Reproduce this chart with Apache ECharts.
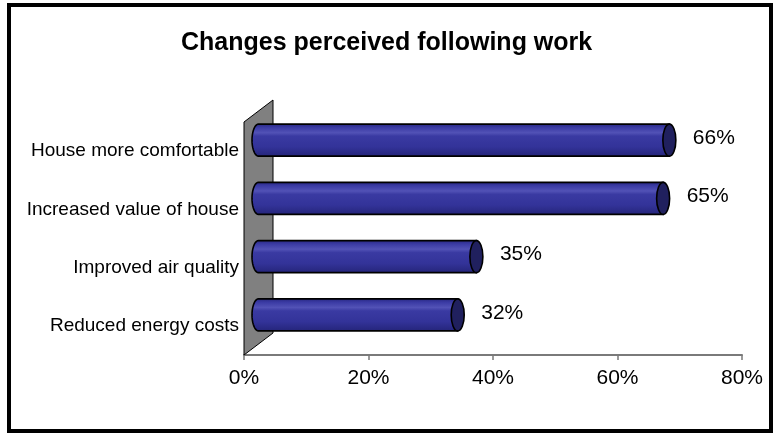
<!DOCTYPE html>
<html>
<head>
<meta charset="utf-8">
<script src="https://cdn.jsdelivr.net/npm/echarts@6/dist/echarts.min.js"></script>
<style>
  html, body { margin: 0; padding: 0; background: #ffffff; }
  #chart { width: 773px; height: 434px; }
</style>
</head>
<body>
<div id="chart"></div>
<script>
// Survey results: changes people noticed after renovation work
const categories = ['House more comfortable', 'Increased value of house', 'Improved air quality', 'Reduced energy costs'];
const values = [66, 65, 35, 32];
const valueLabels = ['66%', '65%', '35%', '32%'];
const xTicks = [0, 20, 40, 60, 80];

// 3D look: depth of the back wall (pixels), bars sit half way back
const DEPTH_X = 29;
const DEPTH_Y = 22;
const FONT = '"Liberation Sans", Arial, sans-serif';

const chart = echarts.init(document.getElementById('chart'), null, { renderer: 'canvas' });

const barFill = new echarts.graphic.LinearGradient(0, 0, 0, 1, [
  { offset: 0.0, color: '#25257a' },
  { offset: 0.12, color: '#3a3aa3' },
  { offset: 0.28, color: '#5252b6' },
  { offset: 0.38, color: '#3a3aa2' },
  { offset: 0.7, color: '#333399' },
  { offset: 1.0, color: '#242478' }
]);

function renderCylinder(params, api) {
  const idx = api.value(1);
  const v = api.value(0);
  const p0 = api.coord([0, idx]);
  const p1 = api.coord([v, idx]);
  const band = api.size([0, 1])[1];
  const h = band * 0.55;
  const ry = h / 2;
  const rx = 6.5;
  const cy = p0[1] - DEPTH_Y / 2;
  const x0 = p0[0] + DEPTH_X / 2;
  const x1 = p1[0] + DEPTH_X / 2;

  // body outline: straight top/bottom, rounded left end
  const pts = [[x0, cy - ry], [x1, cy - ry], [x1, cy + ry], [x0, cy + ry]];
  const n = 20;
  for (let i = 1; i < n; i++) {
    const t = Math.PI / 2 + (Math.PI * i) / n;
    pts.push([x0 + rx * Math.cos(t), cy + ry * Math.sin(t)]);
  }

  return {
    type: 'group',
    children: [
      {
        type: 'polygon',
        shape: { points: pts },
        style: { fill: barFill, stroke: '#000000', lineWidth: 1.6 }
      },
      {
        type: 'ellipse',
        shape: { cx: x1, cy: cy, rx: rx, ry: ry },
        style: { fill: '#20205e', stroke: '#000000', lineWidth: 1.6 }
      },
      {
        type: 'text',
        style: {
          x: x1 + rx + 17,
          y: cy - 2,
          text: valueLabels[idx],
          font: '21px ' + FONT,
          fill: '#000000',
          textAlign: 'left',
          textVerticalAlign: 'middle'
        }
      }
    ]
  };
}

function renderWall(params, api) {
  const cs = params.coordSys;
  const x = cs.x, y = cs.y, hgt = cs.height;
  return {
    type: 'polygon',
    shape: {
      points: [[x, y], [x + DEPTH_X, y - DEPTH_Y], [x + DEPTH_X, y + hgt - DEPTH_Y], [x, y + hgt]]
    },
    style: { fill: '#808080', stroke: '#000000', lineWidth: 1 }
  };
}

chart.setOption({
  animation: false,
  backgroundColor: '#ffffff',
  title: {
    text: 'Changes perceived following work',
    left: 176,
    top: 26,
    textStyle: { fontFamily: FONT, fontSize: 25, fontWeight: 'bold', color: '#000000' }
  },
  graphic: [
    {
      type: 'rect',
      shape: { x: 9, y: 5, width: 762, height: 426 },
      style: { fill: 'none', stroke: '#000000', lineWidth: 4 },
      z: 100
    }
  ],
  grid: { left: 244, right: 31, top: 122, bottom: 79 },
  xAxis: {
    type: 'value',
    min: xTicks[0],
    max: xTicks[xTicks.length - 1],
    interval: 20,
    axisLine: { show: true, lineStyle: { color: '#7a7a7a', width: 2 } },
    axisTick: { show: true, length: 5, lineStyle: { color: '#7a7a7a', width: 1.5 } },
    splitLine: { show: false },
    axisLabel: {
      margin: 13,
      formatter: '{value}%',
      fontFamily: FONT,
      fontSize: 21,
      color: '#000000'
    }
  },
  yAxis: {
    type: 'category',
    data: categories,
    inverse: true,
    axisLine: { show: false },
    axisTick: { show: false },
    axisLabel: {
      margin: 5,
      fontFamily: FONT,
      fontSize: 19,
      color: '#000000'
    }
  },
  series: [
    {
      type: 'custom',
      name: 'wall',
      renderItem: renderWall,
      data: [[0, 0]],
      z: 1,
      silent: true
    },
    {
      type: 'custom',
      name: 'Changes perceived',
      renderItem: renderCylinder,
      encode: { x: 0, y: 1 },
      data: values.map((v, i) => [v, i]),
      z: 2
    }
  ]
});
</script>
</body>
</html>
